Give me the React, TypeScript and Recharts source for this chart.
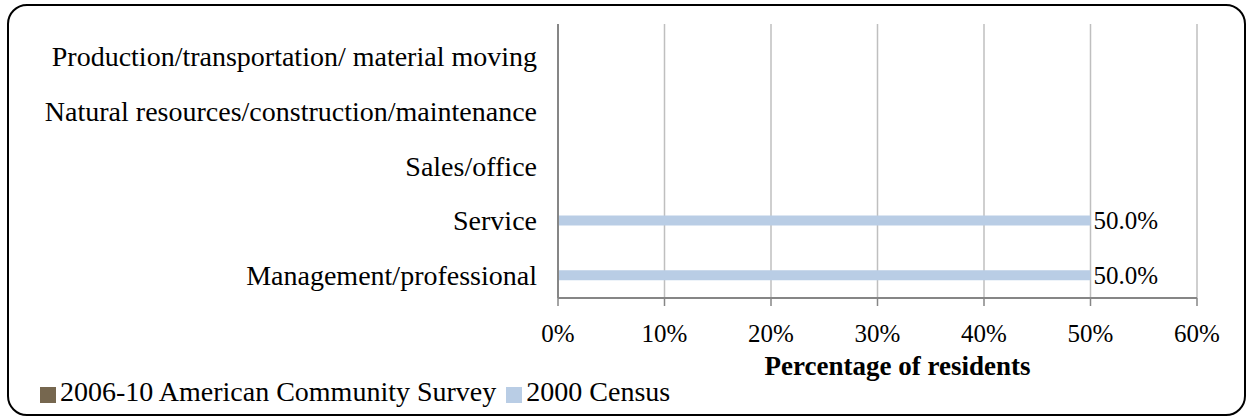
import React from 'react';
import { BarChart, Bar, XAxis, YAxis, CartesianGrid, Legend, LabelList, Label } from 'recharts';

const categories = [
  'Production/transportation/ material moving',
  'Natural resources/construction/maintenance',
  'Sales/office',
  'Service',
  'Management/professional',
];
const acs2006to10 = [0, 0, 0, 0, 0];
const census2000 = [0, 0, 0, 50, 50];
const xTicks = [0, 10, 20, 30, 40, 50, 60];
const seriesNames = ['2006-10 American Community Survey', '2000 Census'];

const data = categories.map((name, i) => ({ name, acs: acs2006to10[i], census: census2000[i] }));

const FONT = '"Liberation Serif", "Times New Roman", serif';

const pctLabel = (v: any) => (v ? `${Number(v).toFixed(1)}%` : '');

const CategoryTick = (props: any) => {
  const { x, y, payload } = props;
  return (
    <text
      x={x}
      y={y + 5}
      textAnchor="end"
      dominantBaseline="central"
      fill="#000"
      fontSize={28}
      fontFamily={FONT}
    >
      {payload.value}
    </text>
  );
};

export default function App() {
  return (
    <div style={{ position: 'absolute', left: 0, top: 0, width: 1247, height: 417, background: '#fff', fontFamily: FONT }}>
      <div
        style={{
          position: 'absolute',
          left: 7,
          top: 4,
          width: 1239,
          height: 412,
          border: '2px solid #000',
          borderRadius: 20,
          boxSizing: 'border-box',
        }}
      />
      <BarChart
        width={1247}
        height={417}
        data={data}
        layout="vertical"
        barSize={10}
        barGap={0}
        margin={{ top: 24, right: 50, left: 8, bottom: 59 }}
        style={{ position: 'absolute', left: 0, top: 0 }}
      >
        <CartesianGrid horizontal={false} stroke="#bfbfbf" strokeWidth={1.5} />
        <XAxis
          type="number"
          domain={[0, 60]}
          ticks={xTicks}
          tickFormatter={(v) => `${v}%`}
          height={60}
          tickSize={8}
          tickLine={{ stroke: '#868686', strokeWidth: 1.5 }}
          axisLine={{ stroke: '#868686', strokeWidth: 2 }}
          tick={{ fill: '#000', fontSize: 25, fontFamily: FONT }}
          tickMargin={18}
          interval={0}
        >
          <Label
            value="Percentage of residents"
            position="insideBottom"
            offset={-17}
            dx={20}
            style={{ fill: '#000', fontSize: 27, fontWeight: 'bold', fontFamily: FONT }}
          />
        </XAxis>
        <XAxis
          xAxisId="top"
          orientation="top"
          type="number"
          domain={[0, 60]}
          height={0}
          tick={false}
          tickLine={false}
          axisLine={{ stroke: '#000', strokeWidth: 2 }}
        />
        <YAxis
          type="category"
          dataKey="name"
          width={550}
          tickSize={0}
          tickMargin={21}
          tickLine={false}
          axisLine={{ stroke: '#868686', strokeWidth: 2 }}
          tick={<CategoryTick />}
          interval={0}
        />
        <YAxis
          yAxisId="right"
          orientation="right"
          type="category"
          dataKey="name"
          width={0}
          tick={false}
          tickLine={false}
          axisLine={{ stroke: '#000', strokeWidth: 2 }}
        />
        <Legend
          verticalAlign="middle"
          align="center"
          iconType="square"
          iconSize={16}
          itemSorter="dataKey"
          wrapperStyle={{ top: 376, left: 40, width: 'auto', textAlign: 'left', fontFamily: FONT, fontSize: 28 }}
          formatter={(value) => <span style={{ color: '#000' }}>{value}</span>}
        />
        <Bar dataKey="acs" name={seriesNames[0]} fill="#76674f" isAnimationActive={false} />
        <Bar dataKey="census" name={seriesNames[1]} fill="#b9cde5" isAnimationActive={false}>
          <LabelList
            dataKey="census"
            position="right"
            offset={3}
            formatter={pctLabel}
            style={{ fill: '#000', fontSize: 25, fontFamily: FONT }}
          />
        </Bar>
      </BarChart>
    </div>
  );
}
